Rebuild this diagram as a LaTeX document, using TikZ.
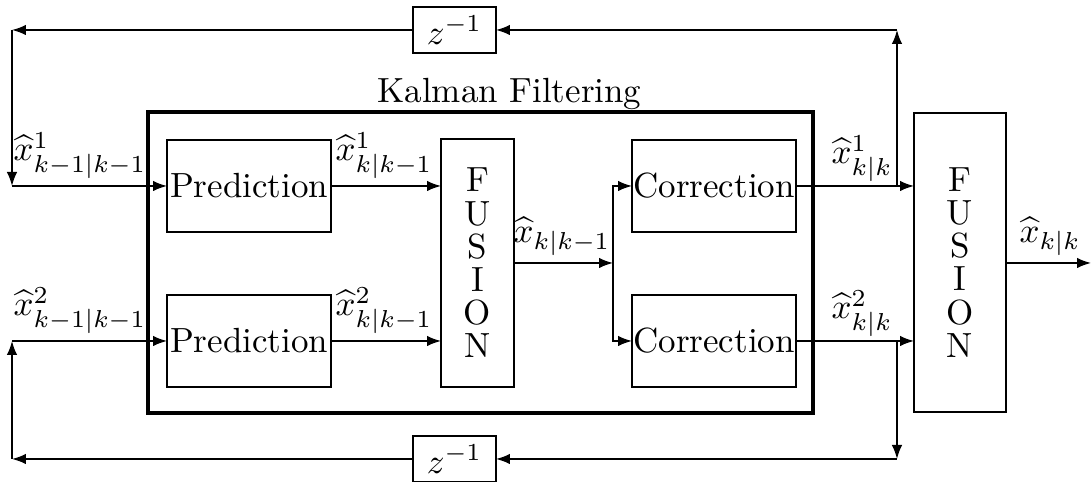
\documentclass[tikz,border=0pt]{standalone}
\usetikzlibrary{arrows.meta}
\newlength\pxu
\setlength\pxu{0.286pt}
\begin{document}
\begin{tikzpicture}[x=\pxu,y=-\pxu,
  >={Latex[length=4pt,width=3pt]},
  box/.style={draw,line width=0.45pt,inner sep=0pt,outer sep=0pt},
  fusiontext/.style={align=center,font=\fontsize{10pt}{9.5pt}\selectfont},
  lbl/.style={anchor=south,inner sep=0pt},
  wire/.style={->,line width=0.45pt}]
\useasboundingbox (0,0) rectangle (1091,482);
% Kalman box
\node[draw,line width=1.1pt,inner sep=0pt,outer sep=0pt,minimum width=665\pxu,minimum height=301\pxu] (kf) at (480.5,262.5) {};
\node[anchor=base] (kft) at (509.5,103) {Kalman Filtering};
% blocks
\node[box,minimum width=164\pxu,minimum height=92\pxu] (p1) at (249,186) {Prediction};
\node[box,minimum width=164\pxu,minimum height=92\pxu] (p2) at (249,341) {Prediction};
\node[box,minimum width=73\pxu,minimum height=248\pxu,fusiontext] (f1) at (477.5,263) {F\\U\\S\\I\\O\\N};
\node[box,minimum width=164\pxu,minimum height=92\pxu] (c1) at (714,186) {Correction};
\node[box,minimum width=164\pxu,minimum height=92\pxu] (c2) at (714,341) {Correction};
\node[box,minimum width=92\pxu,minimum height=299\pxu,fusiontext] (f2) at (960,262.5) {F\\U\\S\\I\\O\\N};
\node[box,minimum width=83\pxu,minimum height=46\pxu] (z1) at (454.5,30) {$z^{-1}$};
\node[box,minimum width=83\pxu,minimum height=46\pxu] (z2) at (454.5,459) {$z^{-1}$};
% coordinates
\coordinate (tl) at (12,30);
\coordinate (tr) at (897,30);
\coordinate (ml1) at (12,186);
\coordinate (ml2) at (12,341);
\coordinate (bl) at (12,459);
\coordinate (br) at (897,459);
\coordinate (tap1) at (897,186);
\coordinate (tap2) at (897,341);
\coordinate (bp) at (613,263);
\coordinate (out) at (1091,263);
% wires
\draw[wire] (ml1) -- (p1.west);
\draw[wire] (ml2) -- (p2.west);
\draw[wire] (p1.east) -- (p1.east -| f1.west);
\draw[wire] (p2.east) -- (p2.east -| f1.west);
\draw[wire] (f1.east |- bp) -- (bp);
\draw[wire] (bp) |- (c1.west);
\draw[wire] (bp) |- (c2.west);
\draw[wire] (c1.east) -- (c1.east -| f2.west);
\draw[wire] (c2.east) -- (c2.east -| f2.west);
\draw[wire] (f2.east |- out) -- (out);
% feedback loops
\draw[wire] (tap1) -- (tr);
\draw[wire] (tr) -- (z1.east);
\draw[wire] (z1.west) -- (tl);
\draw[wire] (tl) -- (ml1);
\draw[wire] (tap2) -- (br);
\draw[wire] (br) -- (z2.east);
\draw[wire] (z2.west) -- (bl);
\draw[wire] (bl) -- (ml2);
% labels
\node[lbl] (l1) at (80,179) {$\widehat{x}^1_{k-1|k-1}$};
\node[lbl] (l2) at (80,334) {$\widehat{x}^2_{k-1|k-1}$};
\node[lbl] (l3) at (384,179) {$\widehat{x}^1_{k|k-1}$};
\node[lbl] (l4) at (384,334) {$\widehat{x}^2_{k|k-1}$};
\node[lbl] (l5) at (562,256) {$\widehat{x}_{k|k-1}$};
\node[lbl] (l6) at (862,182) {$\widehat{x}^1_{k|k}$};
\node[lbl] (l7) at (862,337) {$\widehat{x}^2_{k|k}$};
\node[lbl] (l8) at (1050,256) {$\widehat{x}_{k|k}$};
\end{tikzpicture}
\end{document}
